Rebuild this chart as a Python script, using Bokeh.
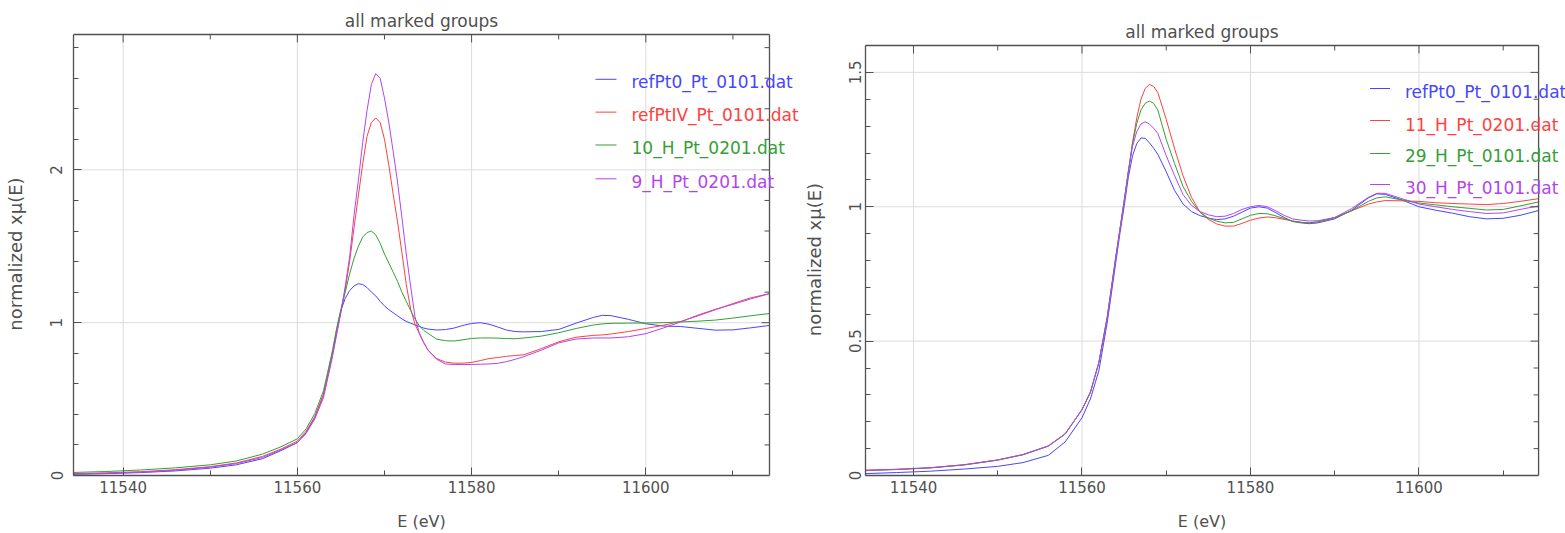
from bokeh.plotting import figure
from bokeh.models import FixedTicker, CustomJSTickFormatter, Range1d, Label, LinearAxis
from bokeh.embed import file_html
from bokeh.resources import INLINE

TITLE = "all marked groups"
X_LABEL = "E (eV)"
Y_LABEL = "normalized xμ(E)"

X_RANGE = (11534.3, 11614.2)
X_MAJOR = [11540, 11560, 11580, 11600]
X_MINOR = [11550, 11570, 11590, 11610]

# ---------------- left panel ----------------
left_names = ["refPt0_Pt_0101.dat", "refPtIV_Pt_0101.dat", "10_H_Pt_0201.dat", "9_H_Pt_0201.dat"]
left_energy = [11534.3, 11538, 11542, 11546, 11550, 11553, 11556, 11558, 11560, 11561, 11562,
               11563, 11564, 11564.5, 11565, 11565.5, 11566, 11566.5, 11567, 11567.5, 11568,
               11568.5, 11569, 11569.5, 11570, 11570.5, 11571, 11571.5, 11572, 11572.5, 11573,
               11573.5, 11574, 11574.5, 11575, 11576, 11577, 11578, 11579, 11580, 11581, 11582,
               11583, 11584, 11585, 11586, 11588, 11590, 11592, 11594, 11595, 11596, 11598,
               11600, 11602, 11604, 11606, 11608, 11610, 11612, 11614.2]
left_refPt0 = [0.008, 0.012, 0.019, 0.03, 0.048, 0.07, 0.11, 0.16, 0.215, 0.28, 0.38,
               0.53, 0.79, 0.95, 1.08, 1.16, 1.21, 1.24, 1.255, 1.25, 1.23,
               1.2, 1.175, 1.14, 1.11, 1.085, 1.065, 1.045, 1.025, 1.008, 0.997,
               0.985, 0.975, 0.965, 0.958, 0.952, 0.955, 0.965, 0.982, 0.995, 1.0, 0.99,
               0.972, 0.952, 0.942, 0.94, 0.942, 0.956, 0.997, 1.035, 1.048, 1.046, 1.022,
               0.993, 0.978, 0.975, 0.963, 0.951, 0.953, 0.966, 0.982]
left_refPtIV = [0.012, 0.017, 0.025, 0.038, 0.058, 0.082, 0.125, 0.17, 0.225, 0.29, 0.385,
                0.53, 0.78, 0.93, 1.07, 1.22, 1.4, 1.62, 1.83, 2.04, 2.22,
                2.31, 2.34, 2.31, 2.2, 2.03, 1.84, 1.66, 1.46, 1.25, 1.09,
                0.99, 0.93, 0.87, 0.82, 0.765, 0.742, 0.735, 0.735, 0.74, 0.752, 0.765,
                0.772, 0.78, 0.785, 0.79, 0.83, 0.875, 0.905, 0.917, 0.92, 0.926, 0.942,
                0.962, 0.983, 1.008, 1.045, 1.085, 1.125, 1.162, 1.19]
left_10H = [0.02, 0.026, 0.036, 0.05, 0.07, 0.095, 0.14, 0.185, 0.24, 0.305, 0.405,
            0.555, 0.81, 0.96, 1.09, 1.2, 1.32, 1.42, 1.5, 1.56, 1.59,
            1.6, 1.575, 1.52, 1.45, 1.39, 1.33, 1.27, 1.2, 1.14, 1.08,
            1.025, 0.98, 0.95, 0.93, 0.892, 0.882, 0.88, 0.888, 0.897, 0.9, 0.9,
            0.899, 0.896, 0.895, 0.9, 0.912, 0.934, 0.962, 0.985, 0.992, 0.996, 0.997,
            0.998, 1.0, 1.005, 1.01, 1.017, 1.03, 1.045, 1.06]
left_9H = [0.01, 0.015, 0.022, 0.034, 0.055, 0.078, 0.118, 0.165, 0.215, 0.275, 0.37,
           0.51, 0.77, 0.92, 1.07, 1.24, 1.43, 1.7, 1.93, 2.18, 2.39,
           2.56, 2.63, 2.6, 2.47, 2.31, 2.12, 1.92, 1.69, 1.45, 1.24,
           1.04, 0.93, 0.87, 0.82, 0.76, 0.73, 0.726, 0.726, 0.727, 0.728, 0.73,
           0.734, 0.745, 0.76, 0.778, 0.82, 0.868, 0.893, 0.9, 0.9, 0.9, 0.908,
           0.928, 0.965, 1.005, 1.05, 1.088, 1.12, 1.155, 1.19]
left_series = [left_refPt0, left_refPtIV, left_10H, left_9H]
left_y_max = 2.886
left_y_major = [0, 1, 2]
left_y_minor = [0.2, 0.4, 0.6, 0.8, 1.2, 1.4, 1.6, 1.8, 2.2, 2.4, 2.6, 2.8]

# ---------------- right panel ----------------
right_names = ["refPt0_Pt_0101.dat", "11_H_Pt_0201.dat", "29_H_Pt_0101.dat", "30_H_Pt_0101.dat"]
right_energy = [11534.3, 11538, 11542, 11546, 11550, 11553, 11556, 11558, 11560, 11561, 11562,
                11563, 11564, 11564.5, 11565, 11565.5, 11566, 11566.5, 11567, 11567.5, 11568,
                11568.5, 11569, 11570, 11571, 11572, 11573, 11574, 11575, 11576, 11577,
                11578, 11579, 11580, 11581, 11582, 11583, 11584, 11585, 11586, 11587, 11588,
                11590, 11592, 11594, 11595, 11596, 11598, 11600, 11602, 11604, 11606, 11608,
                11610, 11612, 11614.2]
right_refPt0 = [0.007, 0.011, 0.016, 0.024, 0.034, 0.048, 0.075, 0.125, 0.215, 0.285, 0.39,
                0.57, 0.79, 0.9, 1.0, 1.11, 1.19, 1.235, 1.256, 1.255, 1.238,
                1.218, 1.195, 1.13, 1.06, 1.01, 0.982, 0.967, 0.958, 0.952, 0.955,
                0.965, 0.98, 0.995, 1.0, 0.995, 0.978, 0.96, 0.945, 0.94, 0.937, 0.94,
                0.955, 0.987, 1.033, 1.048, 1.046, 1.025, 1.0, 0.987, 0.976, 0.963, 0.955,
                0.957, 0.968, 0.986]
right_11H = [0.02, 0.023, 0.029, 0.04, 0.058, 0.078, 0.11, 0.155, 0.245, 0.31, 0.42,
             0.59, 0.81, 0.915, 1.02, 1.13, 1.24, 1.33, 1.40, 1.44, 1.455,
             1.448, 1.425, 1.325, 1.215, 1.115, 1.035, 0.98, 0.953, 0.936, 0.928,
             0.928, 0.938, 0.95, 0.958, 0.962, 0.959, 0.953, 0.947, 0.942, 0.94, 0.944,
             0.96, 0.985, 1.01, 1.018, 1.023, 1.022, 1.02, 1.015, 1.012, 1.01, 1.008,
             1.012, 1.02, 1.03]
right_29H = [0.018, 0.022, 0.028, 0.039, 0.057, 0.077, 0.109, 0.154, 0.245, 0.31, 0.42,
             0.59, 0.81, 0.915, 1.02, 1.13, 1.235, 1.31, 1.36, 1.385, 1.393,
             1.385, 1.36, 1.25, 1.16, 1.075, 1.02, 0.98, 0.958, 0.946, 0.94,
             0.942, 0.955, 0.968, 0.975, 0.974, 0.966, 0.956, 0.947, 0.942, 0.94, 0.943,
             0.958, 0.985, 1.02, 1.033, 1.037, 1.025, 1.014, 1.007, 1.0, 0.994, 0.988,
             0.99, 1.003, 1.018]
right_30H = [0.019, 0.023, 0.029, 0.04, 0.058, 0.078, 0.11, 0.155, 0.245, 0.31, 0.42,
             0.59, 0.81, 0.915, 1.02, 1.13, 1.225, 1.28, 1.308, 1.316, 1.308,
             1.292, 1.273, 1.19, 1.115, 1.045, 1.005, 0.982, 0.97, 0.963, 0.965,
             0.975, 0.99, 1.0, 1.005, 1.0, 0.985, 0.968, 0.955, 0.95, 0.947, 0.948,
             0.96, 0.993, 1.035, 1.05, 1.05, 1.03, 1.01, 1.0, 0.99, 0.982, 0.975,
             0.977, 0.99, 1.003]
right_series = [right_refPt0, right_11H, right_29H, right_30H]
right_y_max = 1.6
right_y_major = [0, 0.5, 1, 1.5]
right_y_minor = [0.1, 0.2, 0.3, 0.4, 0.6, 0.7, 0.8, 0.9, 1.1, 1.2, 1.3, 1.4, 1.6]

COLORS = ["#4646ff", "#ff4040", "#34a034", "#b445ee"]
FONT = "DejaVu Sans"
TXT = "#505050"
AX = "#505050"
GRID = "#dcdcdc"
MAJ_LEN, MIN_LEN = 8, 5
PAD_TOP = 2   # extra pixels above the box so that its top line is fully visible


def make_axis(ticker, formatter, **kw):
    opts = dict(ticker=ticker, formatter=formatter,
                major_tick_out=0, minor_tick_out=0,
                axis_line_color=AX, major_tick_line_color=AX,
                minor_tick_line_color=AX, axis_line_width=1.3,
                major_label_text_font=FONT, major_label_text_color=TXT)
    opts.update(kw)
    return LinearAxis(**opts)


def make_panel(energy, series, names, y_max, y_major, y_minor, width, height,
               box_left, box_width, box_top, box_bottom, ytick_standoff, ylab_standoff,
               leg_line_x, leg_text_x, leg_line_y, leg_text_y):
    # the plotting frame is wider than the drawn box, so that the legend texts
    # that run over the box's right edge are not cut off
    x0, x1 = X_RANGE
    fw = width - box_left
    box_h = height - box_top - box_bottom
    dx = (x1 - x0) / box_width
    dy = y_max / box_h
    x_ext = x0 + fw * dx
    y_ext = y_max + PAD_TOP * dy

    p = figure(width=width, height=height, output_backend="svg", toolbar_location=None,
               x_range=Range1d(x0, x_ext), y_range=Range1d(0, y_ext),
               min_border_left=box_left, min_border_right=0,
               min_border_top=box_top - PAD_TOP, min_border_bottom=box_bottom,
               x_axis_type=None, y_axis_type=None, title=None)
    p.outline_line_color = None
    p.background_fill_color = "white"
    p.border_fill_color = "white"
    p.xgrid.visible = False
    p.ygrid.visible = False

    xt = FixedTicker(ticks=X_MAJOR, minor_ticks=X_MINOR)
    yt = FixedTicker(ticks=y_major, minor_ticks=y_minor)
    fmt = CustomJSTickFormatter(code="return String(tick);")
    xc = (x0 + x1) / 2

    bottom = make_axis(xt, fmt, bounds=(x0, x1), major_tick_in=MAJ_LEN, minor_tick_in=MIN_LEN,
                       major_label_standoff=5, major_label_text_font_size="15px")
    xlabel = make_axis(FixedTicker(ticks=[xc], minor_ticks=[]),
                       CustomJSTickFormatter(code="return '%s';" % X_LABEL),
                       major_tick_in=0, minor_tick_in=0, axis_line_color=None,
                       major_tick_line_color=None, minor_tick_line_color=None,
                       major_label_standoff=16, major_label_text_font_size="16px")
    title = make_axis(FixedTicker(ticks=[xc], minor_ticks=[]),
                      CustomJSTickFormatter(code="return '%s';" % TITLE),
                      major_tick_in=0, minor_tick_in=0, axis_line_color=None,
                      major_tick_line_color=None, minor_tick_line_color=None,
                      major_label_standoff=2, major_label_text_font_size="17px")
    left = make_axis(yt, fmt, bounds=(0, y_max), major_tick_in=MAJ_LEN, minor_tick_in=MIN_LEN,
                     major_label_standoff=ytick_standoff, major_label_orientation="parallel",
                     major_label_text_font_size="15px", axis_label=Y_LABEL,
                     axis_label_standoff=ylab_standoff, axis_label_text_font=FONT,
                     axis_label_text_font_size="18px", axis_label_text_font_style="normal",
                     axis_label_text_color=TXT)
    p.add_layout(bottom, "below")
    p.add_layout(xlabel, "below")
    p.add_layout(title, "above")
    p.add_layout(left, "left")

    # grid lines, limited to the box
    p.segment(x0=X_MAJOR, x1=X_MAJOR, y0=[0] * len(X_MAJOR), y1=[y_max] * len(X_MAJOR),
              line_color=GRID, line_width=1)
    gy = [v for v in y_major if v > 0]
    p.segment(x0=[x0] * len(gy), x1=[x1] * len(gy), y0=gy, y1=gy,
              line_color=GRID, line_width=1)

    for vals, color in zip(series, COLORS):
        p.line(energy, vals, line_color=color, line_width=1)

    # box: top and right edges
    p.segment(x0=[x0, x1], x1=[x1, x1], y0=[y_max, 0], y1=[y_max, y_max],
              line_color=AX, line_width=1.3)
    # mirrored inward ticks on the top and right edges
    tx = X_MAJOR + X_MINOR
    tlen = [MAJ_LEN] * len(X_MAJOR) + [MIN_LEN] * len(X_MINOR)
    p.segment(x0=tx, x1=tx, y0=[y_max] * len(tx), y1=[y_max - L * dy for L in tlen],
              line_color=AX, line_width=1)
    ty = y_major + y_minor
    tlen = [MAJ_LEN] * len(y_major) + [MIN_LEN] * len(y_minor)
    p.segment(x0=[x1] * len(ty), x1=[x1 - L * dx for L in tlen], y0=ty, y1=ty,
              line_color=AX, line_width=1)

    # legend
    for i, (name, color) in enumerate(zip(names, COLORS)):
        ly = leg_line_y[i] * dy
        p.segment(x0=[x0 + leg_line_x[0] * dx], x1=[x0 + leg_line_x[1] * dx],
                  y0=[ly], y1=[ly], line_color=color, line_width=1)
        p.add_layout(Label(x=x0 + leg_text_x * dx, y=leg_text_y[i] * dy, text=name,
                           text_color=color, text_font=FONT, text_font_size="17px",
                           text_baseline="middle", text_align="left"))
    return p


p_left = make_panel(left_energy, left_series, left_names, left_y_max, left_y_major,
                    left_y_minor, 800, 533, 73, 696, 34, 56, 11, 22,
                    (522, 543), 558, [398, 365, 332, 298], [395, 362, 329, 295])
p_right = make_panel(right_energy, right_series, right_names, right_y_max, right_y_major,
                     right_y_minor, 765, 533, 63, 675, 45, 58, 5, 21,
                     (506, 526), 541, [387, 355, 322, 291], [384, 351, 320, 288])

html = file_html([p_left, p_right], INLINE, title="all marked groups")
css = ("<style>html, body { overflow: hidden; } "
       "body { display: flex !important; flex-direction: row; align-items: flex-start; "
       "flex-wrap: nowrap; margin: 0; }</style>")
html = html.replace("</head>", css + "</head>", 1)
open("out.html", "w").write(html)
